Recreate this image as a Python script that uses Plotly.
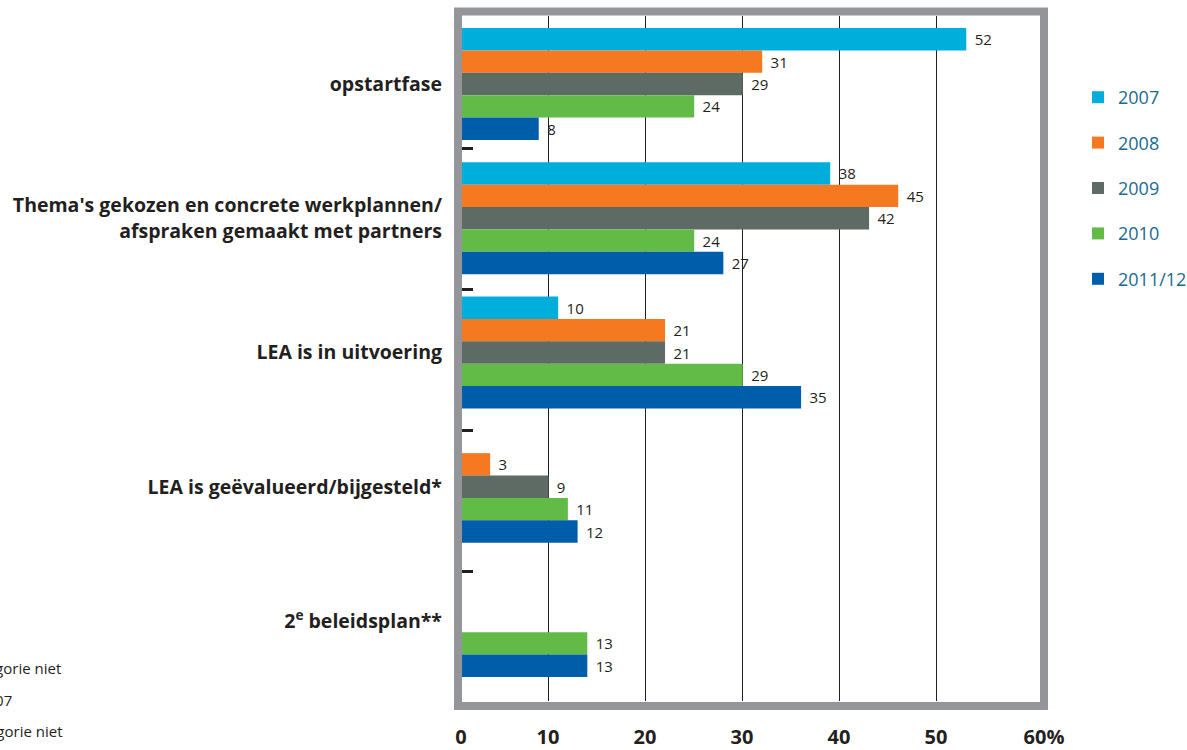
import plotly.graph_objects as go

categories = [
    "opstartfase",
    "Thema's gekozen en concrete werkplannen/<br>afspraken gemaakt met partners",
    "LEA is in uitvoering",
    "LEA is geëvalueerd/bijgesteld*",
    "2<sup>e</sup> beleidsplan**",
]
series_names = ["2007", "2008", "2009", "2010", "2011/12"]
values_2007 = [52, 38, 10, None, None]
values_2008 = [31, 45, 21, 3, None]
values_2009 = [29, 42, 21, 9, None]
values_2010 = [24, 24, 29, 11, 13]
values_2011 = [8, 27, 35, 12, 13]
all_values = [values_2007, values_2008, values_2009, values_2010, values_2011]
colors = ["#00AEDB", "#F47920", "#5E6B65", "#62BB46", "#005DAA"]

grid_ticks = [10, 20, 30, 40, 50]
end_ticks = [0, 60]
end_labels = ["0", "60%"]
separator_ticks = [0.48, 1.53, 2.58, 3.63]
footnotes = ["* Deze categorie niet", "gevraagd in 2007", "** Deze categorie niet"]

DARK = "#231f20"
FONT = "Open Sans"

W, H = 1187, 750
L, R, T, B = 451, 143, 16, 49
PW = W - L - R
PH = H - T - B

def px_x(p):
    return (p - L) / PW

def px_y(p):
    return (H - B - p) / PH

fig = go.Figure()
# empty helper traces so the grid axis and the separator-tick axis are rendered
fig.add_trace(go.Scatter(x=[], y=[], xaxis="x", yaxis="y", showlegend=False, hoverinfo="skip"))
for name, vals, col in zip(series_names, all_values, colors):
    fig.add_trace(go.Bar(
        name=name, y=categories, x=vals, orientation="h",
        marker=dict(color=col, line=dict(width=0)),
        xaxis="x2", yaxis="y",
        texttemplate="\u00a0\u200a%{x}",
        textposition="outside", cliponaxis=False, constraintext="none",
        textfont=dict(family=FONT, size=15, color=DARK),
        legendgroup=name, hoverinfo="x+name",
    ))
fig.add_trace(go.Scatter(x=[], y=[], xaxis="x2", yaxis="y2", showlegend=False, hoverinfo="skip"))

fig.update_layout(
    template="none",
    width=W, height=H,
    margin=dict(l=L, r=R, t=T, b=B, autoexpand=False),
    paper_bgcolor="white", plot_bgcolor="rgba(0,0,0,0)",
    barmode="group", bargap=0.166, bargroupgap=0,
    showlegend=True,
    legend=dict(
        x=px_x(1078), xanchor="left", y=px_y(79), yanchor="top",
        font=dict(family=FONT, size=18, color="#1a6a8e"),
        tracegroupgap=19, bgcolor="rgba(0,0,0,0)", borderwidth=0,
    ),
    xaxis=dict(
        domain=[0, px_x(1040)], range=[0, (1040 - L) / 9.7], anchor="y",
        tickvals=grid_ticks, ticktext=[str(t) for t in grid_ticks],
        showgrid=True, gridcolor=DARK, gridwidth=1, zeroline=False,
        showline=False, ticks="", ticklabelstandoff=22, automargin=False,
        tickfont=dict(family=FONT, size=20, color=DARK, weight=700),
    ),
    xaxis2=dict(
        domain=[px_x(461), 1], range=[0, 60], anchor="y",
        tickvals=end_ticks, ticktext=end_labels,
        showgrid=False, zeroline=False, showline=False, ticks="",
        ticklabelstandoff=22, automargin=False,
        tickfont=dict(family=FONT, size=20, color=DARK, weight=700),
    ),
    yaxis=dict(
        type="category", categoryorder="array", categoryarray=categories,
        range=[4 + 80 / 134.25, -68 / 134.25], domain=[0, 1], anchor="x",
        showgrid=False, zeroline=False, showline=False, ticks="",
        ticklabelstandoff=8, automargin=False,
        tickfont=dict(family=FONT, size=19.5, color=DARK, weight=700),
    ),
    yaxis2=dict(
        type="linear", overlaying="y", anchor="x2", side="left",
        range=[4 + 80 / 134.25, -68 / 134.25],
        tickvals=separator_ticks, ticks="inside", ticklen=12, tickwidth=2.5,
        tickcolor=DARK, showticklabels=False, showgrid=False,
        zeroline=False, showline=False, automargin=False,
    ),
    shapes=[dict(
        type="rect", xref="paper", yref="paper",
        x0=px_x(458), x1=px_x(1044), y0=px_y(706), y1=px_y(11.5),
        line=dict(color="#939598", width=8), fillcolor="rgba(0,0,0,0)",
        layer="above",
    )],
)

foot_y = [668, 700, 731]
foot_x = [63, 14, 65]
for txt, fy, fx in zip(footnotes, foot_y, foot_x):
    fig.add_annotation(
        text=txt, xref="paper", yref="paper", x=px_x(fx), y=px_y(fy),
        xanchor="right", yanchor="middle", showarrow=False,
        font=dict(family=FONT, size=15, color=DARK),
    )

fig.write_html(
    "out.html",
    config={"displayModeBar": False},
    post_script="document.body.style.margin='0px';document.body.style.padding='0px';",
)
